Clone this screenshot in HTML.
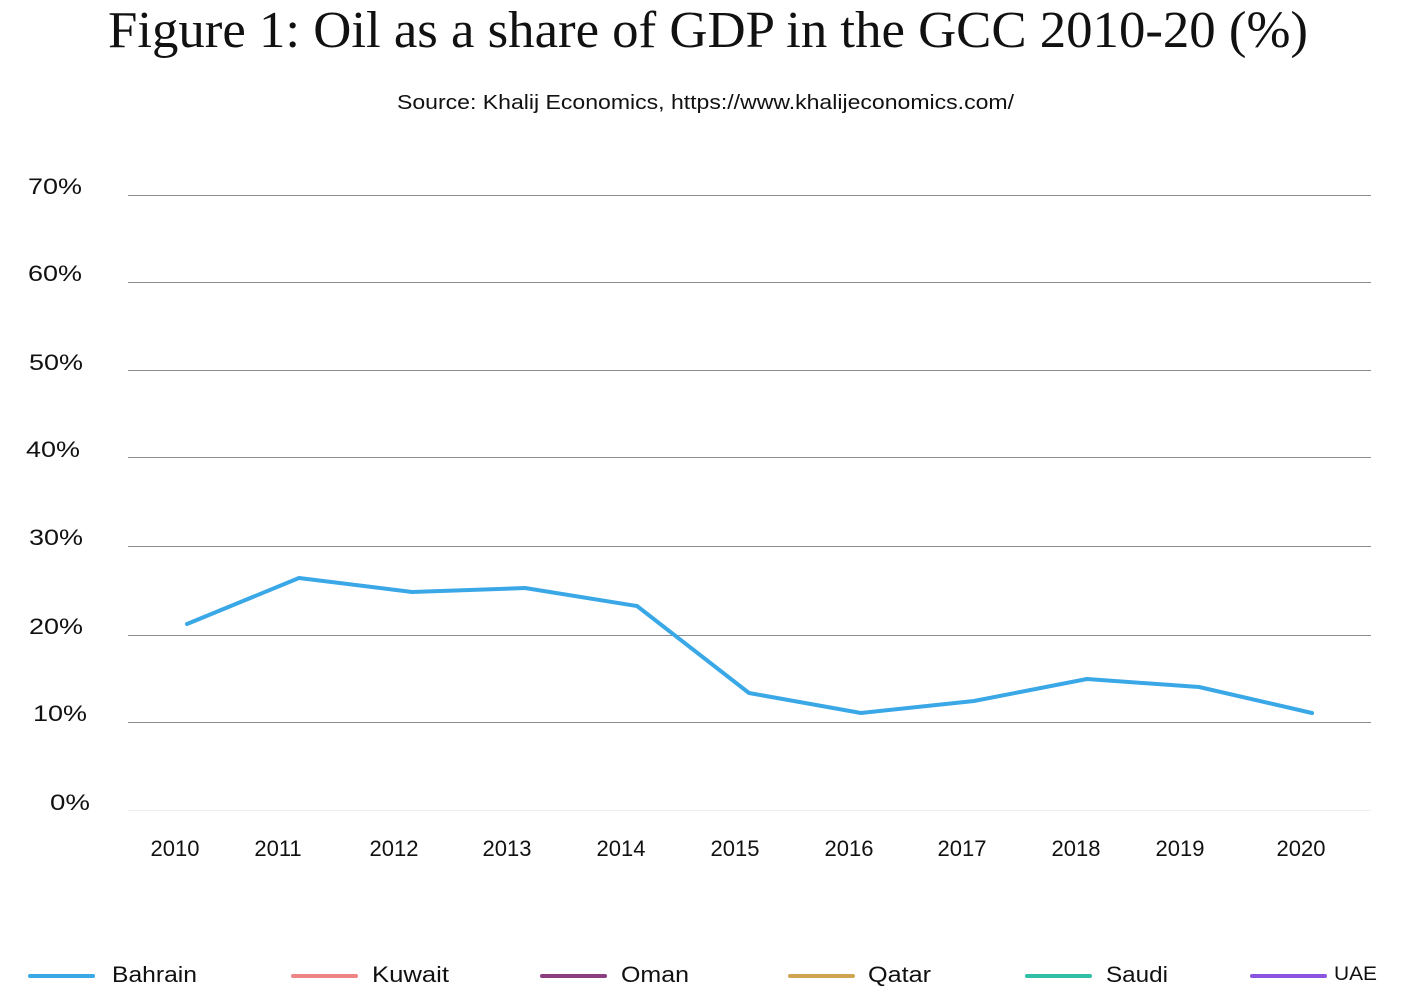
<!DOCTYPE html>
<html><head><meta charset="utf-8"><style>
body{margin:0;background:#fff;}
svg text{font-family:"Liberation Sans",sans-serif;fill:#111;}
</style></head><body>
<svg width="1416" height="993" xmlns="http://www.w3.org/2000/svg">
<text x="108" y="47" textLength="1200" lengthAdjust="spacingAndGlyphs" style="font-family:'Liberation Serif',serif;font-size:52px">Figure 1: Oil as a share of GDP in the GCC  2010-20 (%)</text>
<text x="397" y="109" textLength="617" lengthAdjust="spacingAndGlyphs" font-size="20">Source: Khalij Economics, https://www.khalijeconomics.com/</text>
<g stroke="#8c8c8c" stroke-width="1">
<line x1="128" y1="195.5" x2="1371" y2="195.5"/>
<line x1="128" y1="282.5" x2="1371" y2="282.5"/>
<line x1="128" y1="370.5" x2="1371" y2="370.5"/>
<line x1="128" y1="457.5" x2="1371" y2="457.5"/>
<line x1="128" y1="546.5" x2="1371" y2="546.5"/>
<line x1="128" y1="635.5" x2="1371" y2="635.5"/>
<line x1="128" y1="722.5" x2="1371" y2="722.5"/>
<line x1="128" y1="810.5" x2="1371" y2="810.5" stroke="#eee"/>
</g>
<g font-size="22">
<text x="28" y="194" textLength="54" lengthAdjust="spacingAndGlyphs">70%</text>
<text x="28" y="281" textLength="54" lengthAdjust="spacingAndGlyphs">60%</text>
<text x="29" y="370" textLength="54" lengthAdjust="spacingAndGlyphs">50%</text>
<text x="26" y="457" textLength="54" lengthAdjust="spacingAndGlyphs">40%</text>
<text x="29" y="545" textLength="54" lengthAdjust="spacingAndGlyphs">30%</text>
<text x="29" y="634" textLength="54" lengthAdjust="spacingAndGlyphs">20%</text>
<text x="33" y="721" textLength="54" lengthAdjust="spacingAndGlyphs">10%</text>
<text x="50" y="810" textLength="40" lengthAdjust="spacingAndGlyphs">0%</text>
</g>
<g font-size="22" text-anchor="middle">
<text x="175" y="856">2010</text><text x="278" y="856">2011</text><text x="394" y="856">2012</text>
<text x="507" y="856">2013</text><text x="621" y="856">2014</text><text x="735" y="856">2015</text>
<text x="849" y="856">2016</text><text x="962" y="856">2017</text><text x="1076" y="856">2018</text>
<text x="1180" y="856">2019</text><text x="1301" y="856">2020</text>
</g>
<polyline fill="none" stroke="#3aa8e6" stroke-width="4" stroke-linejoin="round" stroke-linecap="round"
points="187,624 299,578 412,592 525,588 637,606 749,693 861,713 974,701 1087,679 1199,687 1312,713"/>
<g stroke-width="4" stroke-linecap="round">
<line x1="30" y1="976" x2="93" y2="976" stroke="#3aa8e6"/>
<line x1="293" y1="976" x2="356" y2="976" stroke="#f08585"/>
<line x1="542" y1="976" x2="605" y2="976" stroke="#8b3e80"/>
<line x1="790" y1="976" x2="853" y2="976" stroke="#d0a550"/>
<line x1="1027" y1="976" x2="1090" y2="976" stroke="#2fc0a6"/>
<line x1="1252" y1="976" x2="1325" y2="976" stroke="#8a55e0"/>
</g>
<g font-size="22">
<text x="112" y="982" textLength="85" lengthAdjust="spacingAndGlyphs">Bahrain</text>
<text x="372" y="982" textLength="77" lengthAdjust="spacingAndGlyphs">Kuwait</text>
<text x="621" y="982" textLength="68" lengthAdjust="spacingAndGlyphs">Oman</text>
<text x="868" y="982" textLength="63" lengthAdjust="spacingAndGlyphs">Qatar</text>
<text x="1106" y="982" textLength="62" lengthAdjust="spacingAndGlyphs">Saudi</text>
<text x="1334" y="980" font-size="19" textLength="43" lengthAdjust="spacingAndGlyphs">UAE</text>
</g>
</svg>
</body></html>
